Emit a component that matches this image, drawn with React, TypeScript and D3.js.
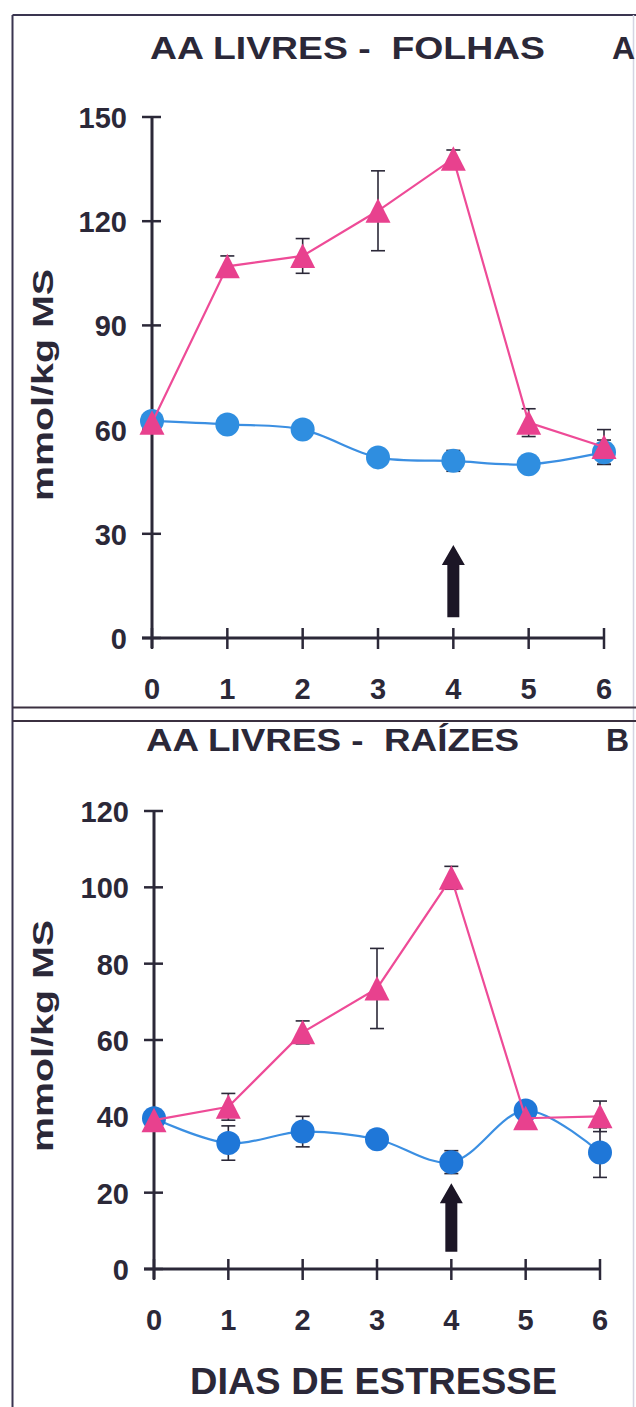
import React from "react";
import * as d3 from "d3";

// ---- data ----
const days = [0, 1, 2, 3, 4, 5, 6];
const yTicksA = [0, 30, 60, 90, 120, 150];
const yTicksB = [0, 20, 40, 60, 80, 100, 120];

const folhasControl = [62.5, 61.5, 60, 52, 51, 50, 53.5];
const folhasControlErr = [0, 0, 0, 0, 3, 0, 3.5];
const folhasStress = [62, 107, 110, 123, 138, 62, 55];
const folhasStressErr = [0, 3, 5, 11.5, 2.5, 4, 5];

const raizesControl = [39.5, 33, 36, 34, 28, 41.5, 30.5];
const raizesControlErr = [0, 4.5, 4, 0, 3, 0, 6.5];
const raizesStress = [39, 42.5, 62, 73.5, 102.5, 39.5, 40];
const raizesStressErr = [0, 3.5, 3, 10.5, 3, 0, 4];

const arrowDay = 4;
const arrowA = [6, 26.8]; // from, to (value units)
const arrowB = [4.5, 22.5];

const titleA = "AA LIVRES -  FOLHAS";
const titleB = "AA LIVRES -  RAÍZES";
const yLabel = "mmol/kg MS";
const xLabel = "DIAS DE ESTRESSE";

const FONT = "'Liberation Sans', Arial, Helvetica, sans-serif";
const INK = "#2b2838";
const PINK = "#e8418e";
const PINK_LINE = "#ee4b97";
const BLUE_A = "#2f8ee0";
const BLUE_B = "#1f77d8";
const BLUE_LINE = "#3b8fe2";

type PanelProps = {
  xRange: [number, number];
  yRange: [number, number];
  yMax: number;
  yTicks: number[];
  control: number[];
  controlErr: number[];
  stress: number[];
  stressErr: number[];
  arrow: number[];
  blue: string;
  yLabelCenter: number;
};

function Panel(p: PanelProps) {
  const x = d3.scaleLinear().domain([0, 6]).range(p.xRange);
  const y = d3.scaleLinear().domain([0, p.yMax]).range(p.yRange);
  const x0 = x(0);
  const y0 = y(0);
  const ctrlLine = d3
    .line<number>()
    .x((_, i) => x(days[i]))
    .y((d) => y(d))
    .curve(d3.curveCatmullRom.alpha(0.5));
  const stLine = d3
    .line<number>()
    .x((_, i) => x(days[i]))
    .y((d) => y(d));

  const errBar = (vals: number[], errs: number[], key: string) =>
    vals.map((v, i) =>
      errs[i] > 0 ? (
        <g key={key + i} stroke={INK} strokeWidth={1.6}>
          <line x1={x(days[i])} x2={x(days[i])} y1={y(v + errs[i])} y2={y(v - errs[i])} />
          <line x1={x(days[i]) - 7} x2={x(days[i]) + 7} y1={y(v + errs[i])} y2={y(v + errs[i])} />
          <line x1={x(days[i]) - 7} x2={x(days[i]) + 7} y1={y(v - errs[i])} y2={y(v - errs[i])} />
        </g>
      ) : null
    );

  const ax = x(arrowDay);
  const aBot = y(p.arrow[0]);
  const aTip = y(p.arrow[1]);
  const arrowPath = `M${ax - 6},${aBot} L${ax - 6},${aTip + 20} L${ax - 11.5},${aTip + 20} L${ax},${aTip} L${ax + 11.5},${aTip + 20} L${ax + 6},${aTip + 20} L${ax + 6},${aBot} Z`;

  return (
    <g>
      {/* axes */}
      <line x1={x0} x2={x0} y1={y(p.yMax)} y2={y0 + 10} stroke={INK} strokeWidth={3} />
      <line x1={x0 - 10} x2={x(6)} y1={y0} y2={y0} stroke={INK} strokeWidth={3} />
      {p.yTicks.map((t) => (
        <g key={"yt" + t}>
          <line x1={x0 - 10} x2={x0 + 9} y1={y(t)} y2={y(t)} stroke={INK} strokeWidth={2.5} />
          <text
            x={x0 - 25}
            y={y(t) + 11}
            textAnchor="end"
            fontFamily={FONT}
            fontWeight="bold"
            fontSize={29}
            fill={INK}
          >
            {t}
          </text>
        </g>
      ))}
      {days.map((d) => (
        <g key={"xt" + d}>
          <line x1={x(d)} x2={x(d)} y1={y0 - 10} y2={y0 + 11} stroke={INK} strokeWidth={2.5} />
          <text
            x={x(d)}
            y={y0 + 61}
            textAnchor="middle"
            fontFamily={FONT}
            fontWeight="bold"
            fontSize={29}
            fill={INK}
          >
            {d}
          </text>
        </g>
      ))}
      <text
        transform={`translate(${53},${p.yLabelCenter}) rotate(-90)`}
        textAnchor="middle"
        fontFamily={FONT}
        fontWeight="bold"
        fontSize={29}
        fill={INK}
        textLength={232}
        lengthAdjust="spacingAndGlyphs"
      >
        {yLabel}
      </text>

      {/* arrow */}
      <path d={arrowPath} fill="#1c1626" />

      {/* error bars */}
      {errBar(p.control, p.controlErr, "ce")}
      {errBar(p.stress, p.stressErr, "se")}

      {/* control series */}
      <path d={ctrlLine(p.control) || ""} fill="none" stroke={BLUE_LINE} strokeWidth={2.2} />
      {p.control.map((v, i) => (
        <circle key={"c" + i} cx={x(days[i])} cy={y(v)} r={12} fill={p.blue} />
      ))}

      {/* stress series */}
      <path d={stLine(p.stress) || ""} fill="none" stroke={PINK_LINE} strokeWidth={2.2} />
      {p.stress.map((v, i) => {
        const cx = x(days[i]);
        const cy = y(v);
        return (
          <path
            key={"t" + i}
            d={`M${cx},${cy - 12.5} L${cx - 12.5},${cy + 12} L${cx + 12.5},${cy + 12} Z`}
            fill={PINK}
          />
        );
      })}
    </g>
  );
}

export default function App() {
  return (
    <svg
      width={636}
      height={1407}
      style={{ position: "absolute", left: 0, top: 0, background: "#fff" }}
    >
      <rect x={0} y={0} width={636} height={1407} fill="#fff" />
      {/* frame */}
      <line x1={12.5} x2={12.5} y1={15} y2={1407} stroke="#3a3550" strokeWidth={2} />
      <line x1={12.5} x2={636} y1={15} y2={15} stroke="#3a3550" strokeWidth={2} />
      <line x1={633.5} x2={633.5} y1={15} y2={1407} stroke="#d4d4e2" strokeWidth={1.5} />
      <line x1={12.5} x2={636} y1={707.5} y2={707.5} stroke="#3b3040" strokeWidth={2} />
      <line x1={12.5} x2={636} y1={721} y2={721} stroke="#3b3040" strokeWidth={2} />

      {/* titles */}
      <text
        x={150}
        y={59}
        fontFamily={FONT}
        fontWeight="bold"
        fontSize={32}
        fill={INK}
        textLength={395}
        lengthAdjust="spacingAndGlyphs"
        style={{ whiteSpace: "pre" }}
      >
        {titleA}
      </text>
      <text x={612} y={59} fontFamily={FONT} fontWeight="bold" fontSize={32} fill={INK}>
        A
      </text>
      <text
        x={146}
        y={751}
        fontFamily={FONT}
        fontWeight="bold"
        fontSize={32}
        fill={INK}
        textLength={373}
        lengthAdjust="spacingAndGlyphs"
        style={{ whiteSpace: "pre" }}
      >
        {titleB}
      </text>
      <text x={606} y={751} fontFamily={FONT} fontWeight="bold" fontSize={32} fill={INK}>
        B
      </text>

      <Panel
        xRange={[152, 604]}
        yRange={[638, 117]}
        yMax={150}
        yTicks={yTicksA}
        control={folhasControl}
        controlErr={folhasControlErr}
        stress={folhasStress}
        stressErr={folhasStressErr}
        arrow={arrowA}
        blue={BLUE_A}
        yLabelCenter={385}
      />
      <Panel
        xRange={[154, 600]}
        yRange={[1269, 811]}
        yMax={120}
        yTicks={yTicksB}
        control={raizesControl}
        controlErr={raizesControlErr}
        stress={raizesStress}
        stressErr={raizesStressErr}
        arrow={arrowB}
        blue={BLUE_B}
        yLabelCenter={1036}
      />

      <text
        x={190}
        y={1394}
        fontFamily={FONT}
        fontWeight="bold"
        fontSize={37}
        fill={INK}
        textLength={367}
        lengthAdjust="spacingAndGlyphs"
      >
        {xLabel}
      </text>
    </svg>
  );
}
